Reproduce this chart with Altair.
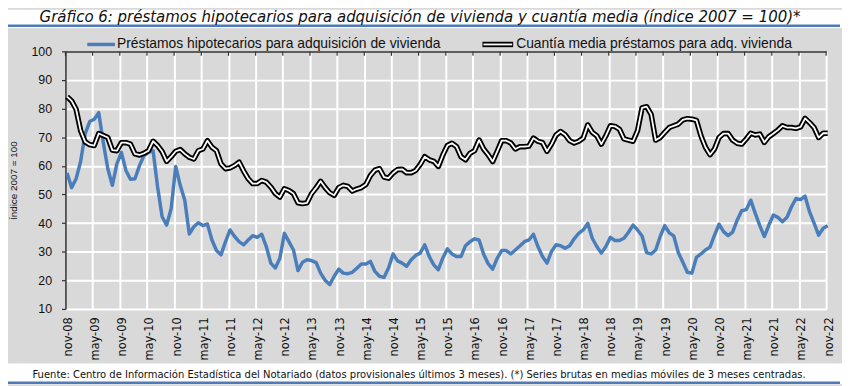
import altair as alt
import pandas as pd

# ---------------- data ----------------
tick_labels = ['nov-08', 'may-09', 'nov-09', 'may-10', 'nov-10', 'may-11', 'nov-11',
               'may-12', 'nov-12', 'may-13', 'nov-13', 'may-14', 'nov-14', 'may-15',
               'nov-15', 'may-16', 'nov-16', 'may-17', 'nov-17', 'may-18', 'nov-18',
               'may-19', 'nov-19', 'may-20', 'nov-20', 'may-21', 'nov-21', 'may-22',
               'nov-22']

# Préstamos hipotecarios para adquisición de vivienda (monthly, nov-08 .. nov-22)
prestamos = [
    57.5, 52.4, 55.5, 61.5, 71.3, 75.5, 76.3, 78.6, 68.2, 59.0, 53.2, 60.7, 64.7, 58.4,
    55.3, 55.5, 60.1, 63.6, 64.7, 65.3, 52.6, 42.2, 39.3, 45.1, 59.8, 53.2, 48.0, 36.2,
    38.7, 40.1, 39.1, 39.7, 34.1, 30.4, 28.9, 33.5, 37.6, 35.3, 33.5, 32.4, 34.1, 35.6,
    35.0, 36.1, 31.8, 26.0, 24.3, 27.7, 36.4, 33.5, 30.6, 23.4, 26.3, 27.2, 26.9, 26.2,
    22.5, 20.0, 18.5, 21.4, 23.9, 22.5, 22.3, 22.8, 24.2, 25.7, 25.7, 26.6, 23.1, 21.4,
    21.0, 24.3, 29.2, 26.8, 26.0, 24.9, 27.2, 28.7, 29.5, 32.4, 28.3, 25.4, 23.7, 27.8,
    31.0, 29.2, 28.3, 28.3, 32.1, 33.5, 34.5, 34.1, 29.2, 25.8, 23.9, 27.7, 30.4, 30.4,
    29.2, 30.6, 32.0, 33.5, 34.1, 36.1, 31.8, 28.3, 26.0, 30.1, 32.4, 32.1, 31.2, 32.1,
    34.5, 36.4, 37.6, 39.9, 34.7, 31.8, 29.5, 31.8, 35.0, 33.9, 33.9, 34.7, 36.8, 39.3,
    37.6, 35.5, 29.7, 29.2, 30.6, 35.3, 39.1, 36.6, 35.5, 29.7, 26.3, 22.8, 22.5, 28.0,
    29.2, 30.6, 31.6, 35.8, 39.6, 37.0, 35.6, 36.8, 41.0, 44.3, 44.7, 48.0, 43.4, 39.1,
    35.3, 39.3, 42.8, 42.0, 40.5, 42.0, 45.7, 48.6, 48.2, 49.4, 43.9, 39.9, 35.8, 38.2,
    39.1,
]

# Cuantía media préstamos para adq. vivienda
cuantia = [
    84.2, 82.7, 79.8, 72.3, 68.4, 67.4, 67.1, 71.3, 70.6, 69.9, 65.5, 65.3, 68.1, 68.1,
    67.6, 64.2, 63.8, 64.4, 65.3, 68.6, 67.1, 65.0, 61.6, 63.2, 65.1, 65.7, 64.2, 63.0,
    62.4, 65.3, 65.9, 68.8, 66.5, 65.3, 60.7, 59.0, 59.3, 60.1, 61.3, 58.2, 55.5, 53.8,
    53.8, 54.9, 54.3, 52.6, 50.3, 49.1, 52.0, 51.4, 50.3, 47.1, 46.8, 47.1, 50.3, 52.3,
    54.6, 52.4, 50.6, 49.7, 52.4, 53.2, 52.8, 51.2, 51.9, 52.4, 53.5, 56.6, 58.5, 59.0,
    56.1, 55.7, 57.5, 58.7, 58.8, 57.6, 57.6, 58.4, 60.5, 63.2, 62.1, 61.6, 59.8, 63.8,
    67.1, 67.9, 66.8, 63.2, 62.1, 64.4, 65.3, 69.0, 65.9, 63.9, 61.5, 65.1, 68.8, 68.8,
    68.0, 65.9, 66.7, 66.7, 66.9, 69.7, 68.6, 68.1, 65.1, 67.6, 70.8, 72.0, 70.9, 68.8,
    68.0, 68.6, 69.7, 74.3, 71.7, 70.5, 67.6, 70.5, 74.0, 73.8, 72.8, 69.4, 69.0, 68.6,
    72.3, 80.3, 80.7, 78.0, 69.0, 69.9, 71.7, 73.4, 74.0, 74.6, 76.1, 76.5, 76.3, 75.9,
    70.5, 66.5, 63.9, 65.9, 69.9, 71.3, 71.3, 69.0, 67.9, 67.6, 69.4, 71.4, 70.8, 71.1,
    68.2, 70.2, 71.3, 72.5, 74.0, 73.4, 73.4, 73.1, 73.6, 76.6, 75.1, 73.4, 69.9, 71.4,
    71.4,
]

y_ticks = [10, 20, 30, 40, 50, 60, 70, 80, 90, 100]

TITLE = ("Gráfico 6: préstamos hipotecarios para adquisición de vivienda y "
         "cuantía media (índice 2007 = 100)*")
FOOT = ("Fuente: Centro de Información Estadística del Notariado (datos provisionales "
        "últimos 3 meses). (*) Series brutas en medias móviles de 3 meses centradas.")
LEG_BLUE = "Préstamos hipotecarios para adquisición de vivienda"
LEG_BLACK = "Cuantía media préstamos para adq. vivienda"
Y_TITLE = "Índice 2007 = 100"

# ---------------- layout ----------------
W, H = 768, 260
OFF = 0.35
BLUE = "#4a7ebb"
DARK = "#333333"
GRAY = "#d9d9d9"
NARROW = "Liberation Sans Narrow, DejaVu Sans Condensed, Liberation Sans, sans-serif"

df = pd.DataFrame({"i": list(range(len(prestamos))), "prestamos": prestamos, "cuantia": cuantia})
tick_pos = [6 * k - OFF for k in range(len(tick_labels))]
ticks_df = pd.DataFrame({"t": tick_pos})
one = pd.DataFrame({"a": [0]})

xscale = alt.Scale(domain=[-OFF - 0.005, 168 - OFF + 0.005], nice=False, zero=False)
yscale = alt.Scale(domain=[9.99, 100.01], nice=False, zero=False)

label_js = "[" + ",".join("'%s'" % s for s in tick_labels) + "]"
xaxis = alt.Axis(
    values=tick_pos, tickCount=40,
    labelExpr="%s[round((datum.value + %s) / 6)]" % (label_js, OFF),
    labelAngle=270, labelAlign="right", labelBaseline="middle",
    labelPadding=8, labelOffset=3, labelOverlap=False,
    labelFont="DejaVu Sans", labelFontSize=11.5, labelColor="#111111",
    domain=False, ticks=False,
    grid=True, gridWidth=2,
    gridColor={"condition": {"test": "datum.value < 0", "value": "transparent"}, "value": "white"},
    title=None,
)
yaxis = alt.Axis(
    values=y_ticks, tickCount=20, labelOverlap=False,
    labelFont="Liberation Sans", labelFontSize=12.5, labelColor="#111111", labelPadding=10,
    ticks=True, tickSize=4, tickColor=DARK, tickWidth=1.2,
    domain=True, domainColor=DARK, domainWidth=1.5,
    grid=True,
    gridColor={"condition": {"test": "datum.value == 100", "value": DARK}, "value": "white"},
    gridWidth={"condition": {"test": "datum.value == 100", "value": 1.5}, "value": 2},
    title=Y_TITLE, titleFont="Liberation Sans", titleFontSize=10, titleFontWeight="normal",
    titleColor="#111111", titleAngle=270, titleX=-52, titleY=130,
    titleAlign="center", titleBaseline="middle",
)

x_enc = alt.X("i:Q", scale=xscale, axis=xaxis)

blue_line = alt.Chart(df).mark_line(color=BLUE, strokeWidth=3.5, strokeJoin="round").encode(
    x=x_enc, y=alt.Y("prestamos:Q", scale=yscale, axis=yaxis))
black_line = alt.Chart(df).mark_line(color="black", strokeWidth=5.5, strokeJoin="round").encode(
    x=alt.X("i:Q", scale=xscale), y=alt.Y("cuantia:Q", scale=yscale))
white_line = alt.Chart(df).mark_line(color="white", strokeWidth=1.8, strokeJoin="round").encode(
    x=alt.X("i:Q", scale=xscale), y=alt.Y("cuantia:Q", scale=yscale))

top_ticks = alt.Chart(ticks_df).mark_rule(color=DARK, strokeWidth=1.2).encode(
    x=alt.X("t:Q", scale=xscale), y=alt.value(0), y2=alt.value(4.5))

# white bands above and below the gray panel
white_top = alt.Chart(one).mark_rect(color="white").encode(
    x=alt.value(-58), x2=alt.value(784), y=alt.value(-42), y2=alt.value(-23.5))
white_bot = alt.Chart(one).mark_rect(color="white").encode(
    x=alt.value(-58), x2=alt.value(784), y=alt.value(315), y2=alt.value(336))

sep_top = alt.Chart(one).mark_rule(color="#4f7ab8", strokeWidth=2.5).encode(
    x=alt.value(-58), x2=alt.value(782), y=alt.value(-26))
sep_bot = alt.Chart(one).mark_rule(color="#4f7ab8", strokeWidth=2.5).encode(
    x=alt.value(-58), x2=alt.value(782), y=alt.value(334.5))

title_txt = alt.Chart(one).mark_text(
    text=TITLE, font=NARROW, fontSize=16.8, fontStyle="italic", align="center",
    baseline="alphabetic", color="#111111").encode(x=alt.value(358), y=alt.value(-29.5))
foot_txt = alt.Chart(one).mark_text(
    text=FOOT, font=NARROW, fontSize=11.2, align="center", baseline="middle",
    color="#111111").encode(x=alt.value(357), y=alt.value(327))

# legend
leg_blue_sym = alt.Chart(one).mark_rule(color=BLUE, strokeWidth=3.5).encode(
    x=alt.value(22), x2=alt.value(50), y=alt.value(-7))
leg_blue_txt = alt.Chart(one).mark_text(
    text=LEG_BLUE, font="Liberation Sans", fontSize=14, align="left", baseline="middle",
    color="#111111").encode(x=alt.value(52), y=alt.value(-7))
leg_black_sym = alt.Chart(one).mark_rule(color="black", strokeWidth=5.5).encode(
    x=alt.value(421), x2=alt.value(452), y=alt.value(-7))
leg_black_sym2 = alt.Chart(one).mark_rule(color="white", strokeWidth=1.8).encode(
    x=alt.value(422), x2=alt.value(451), y=alt.value(-7))
leg_black_txt = alt.Chart(one).mark_text(
    text=LEG_BLACK, font="Liberation Sans", fontSize=14, align="left", baseline="middle",
    color="#111111").encode(x=alt.value(455), y=alt.value(-7))

chart = alt.layer(
    blue_line, black_line, white_line, top_ticks,
    white_top, white_bot, sep_top, sep_bot, title_txt, foot_txt,
    leg_blue_sym, leg_blue_txt, leg_black_sym, leg_black_sym2, leg_black_txt,
).properties(
    width=W, height=H,
    background=GRAY,
    padding={"left": 58, "top": 42, "right": 16, "bottom": 76},
    autosize=alt.AutoSizeParams(type="none"),
).configure_view(stroke=None, fill=None)

chart.save("out.html", embed_options={"renderer": "svg", "actions": False})
